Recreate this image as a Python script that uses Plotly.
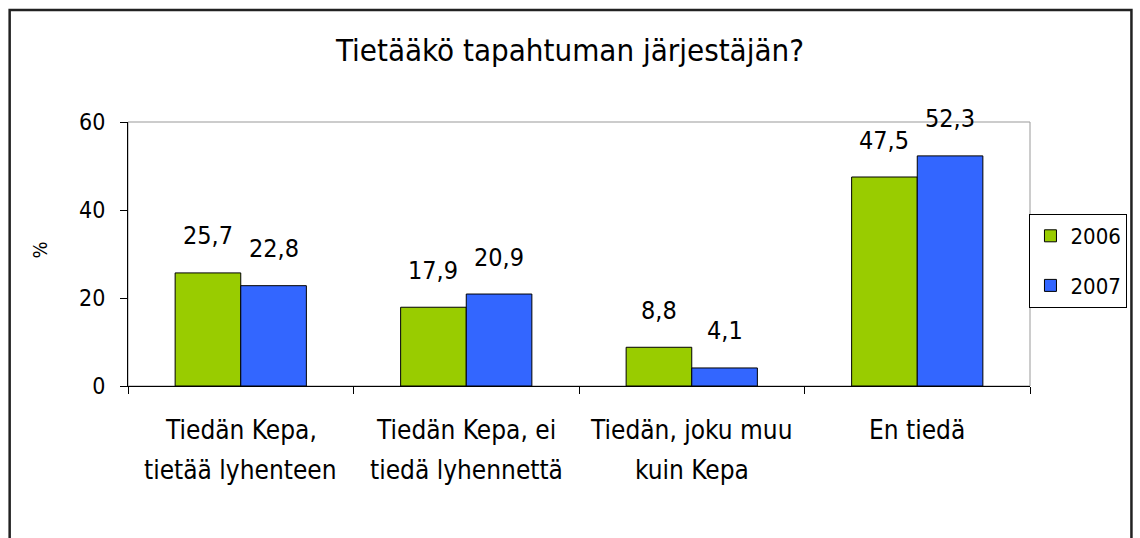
import plotly.graph_objects as go

categories = ["Tiedän Kepa,<br>tietää lyhenteen",
              "Tiedän Kepa, ei<br>tiedä lyhennettä",
              "Tiedän, joku muu<br>kuin Kepa",
              "En tiedä"]
series_names = ["2006", "2007"]
values_2006 = [25.7, 17.9, 8.8, 47.5]
values_2007 = [22.8, 20.9, 4.1, 52.3]
colors = ["#99CC00", "#3366FF"]
y_ticks = [0, 20, 40, 60]

W, H = 1140, 538
L, R, T, B = 128, 105, 122, 152
FONT = "DejaVu Sans Condensed, DejaVu Sans, sans-serif"
BARGAP = 0.418

x_idx = list(range(len(categories)))
fig = go.Figure()
for name, vals, col in zip(series_names, [values_2006, values_2007], colors):
    fig.add_trace(go.Bar(x=x_idx, y=vals, name=name, legendgroup=name,
                         marker=dict(color=col, line=dict(color="black", width=1))))

def px2paper_x(px):
    return (px - L) / (W - L - R)

def px2paper_y(py):
    return (H - B - py) / (H - T - B)

annotations = []
# data labels
half = (1 - BARGAP) / 4
for k, vals in enumerate([values_2006, values_2007]):
    off = -half if k == 0 else half
    for i, v in enumerate(vals):
        annotations.append(dict(x=i + off, y=v, xref="x", yref="y",
                                text=f"{v:.1f}".replace(".", ","), showarrow=False,
                                yanchor="middle", xanchor="center", yshift=37,
                                font=dict(family=FONT, size=25, color="black")))
# category labels (two lines, wide spacing)
for i, c in enumerate(categories):
    for j, line in enumerate(c.split("<br>")):
        annotations.append(dict(x=i, y=0, xref="x", yref="paper", text=line,
                                showarrow=False, yanchor="middle", xanchor="center",
                                yshift=-44 - 40 * j,
                                font=dict(family=FONT, size=26, color="black")))
# y axis title
annotations.append(dict(x=px2paper_x(40), y=px2paper_y(250), xref="paper", yref="paper",
                        text="%", textangle=-90, showarrow=False,
                        xanchor="center", yanchor="middle",
                        font=dict(family=FONT, size=20, color="black")))

shapes = [
    dict(type="rect", xref="paper", yref="paper", x0=0, x1=1, y0=0, y1=1,
         line=dict(color="#999999", width=1), layer="below"),
    dict(type="path", xref="paper", yref="paper",
         path=(f"M {px2paper_x(9)} {px2paper_y(600)} L {px2paper_x(9)} {px2paper_y(10)} "
               f"L {px2paper_x(1137)} {px2paper_y(10)} L {px2paper_x(1137)} {px2paper_y(600)}"),
         line=dict(color="#222222", width=2.5)),
]

fig.update_layout(
    width=W, height=H,
    margin=dict(l=L, r=R, t=T, b=B),
    paper_bgcolor="white", plot_bgcolor="white",
    bargap=BARGAP, bargroupgap=0, barmode="group",
    title=dict(text="Tietääkö tapahtuman järjestäjän?", x=0.5, xref="container",
               y=1 - 50 / H, yanchor="middle", xanchor="center",
               font=dict(family=FONT, size=31, color="black")),
    xaxis=dict(type="category", tickson="boundaries", ticks="outside", ticklen=7,
               tickcolor="black", showticklabels=False, showline=True, linecolor="black",
               linewidth=1, showgrid=False, zeroline=False, range=[-0.5, 3.5],
               tickvals=x_idx),
    yaxis=dict(range=[0, 60], tickvals=y_ticks, ticks="outside", ticklen=7,
               tickcolor="black", showline=True, linecolor="black", linewidth=1,
               showgrid=False, zeroline=False, ticklabelstandoff=10,
               tickfont=dict(family=FONT, size=23, color="black")),
    legend=dict(x=px2paper_x(1133), y=px2paper_y(214), xanchor="right", yanchor="top",
                bordercolor="black", borderwidth=1, bgcolor="white",
                tracegroupgap=18, font=dict(family=FONT, size=22, color="black")),
    annotations=annotations, shapes=shapes,
    showlegend=True,
)

fig.write_html("out.html", post_script="document.body.style.margin='0';",
               config={"displayModeBar": False})
